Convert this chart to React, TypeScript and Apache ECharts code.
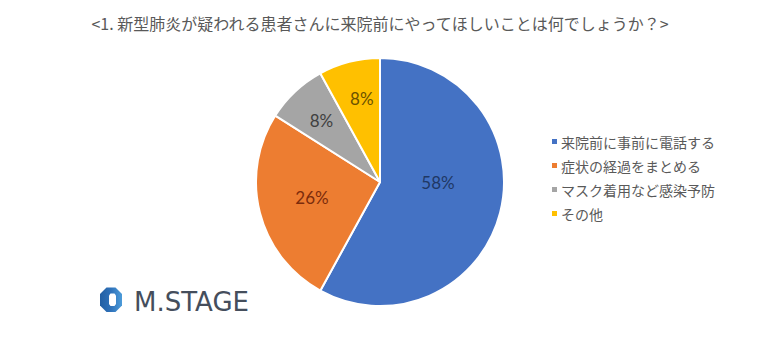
import React, { useEffect, useRef } from "react";
import * as echarts from "echarts";

const titleText = "<1. 新型肺炎が疑われる患者さんに来院前にやってほしいことは何でしょうか？>";
const categories = ["来院前に事前に電話する", "症状の経過をまとめる", "マスク着用など感染予防", "その他"];
const values = [58, 26, 8, 8];
const sliceColors = ["#4472C4", "#ED7D31", "#A5A5A5", "#FFC000"];
const labelColors = ["#1F3864", "#7B2C0C", "#404040", "#6B5200"];
const labelOffsets: [number, number][] = [[-5, -16], [-5, -1], [-14, -14], [-2, -21]];

const FONT = '"Noto Sans CJK JP", "Noto Sans", sans-serif';

export default function App() {
  const ref = useRef<HTMLDivElement>(null);
  useEffect(() => {
    document.body.style.margin = "0";
    const chart = echarts.init(ref.current!, null, { renderer: "svg" });
    chart.setOption({
      animation: false,
      backgroundColor: "#ffffff",
      title: {
        text: titleText,
        left: "center",
        top: 10,
        textStyle: { fontFamily: FONT, fontSize: 16, fontWeight: "normal", color: "#595959" },
      },
      legend: {
        orient: "vertical",
        left: 545,
        top: 129,
        icon: "rect",
        itemWidth: 7,
        itemHeight: 7,
        itemGap: 9,
        data: categories,
        textStyle: { fontFamily: FONT, fontSize: 14, color: "#595959", lineHeight: 15, padding: [0, 0, 0, -2] },
      },
      graphic: [
        {
          type: "polygon",
          shape: {
            points: [[106.5, 287.5], [115.5, 287.5], [122, 294], [122, 305.5], [115.5, 312], [106.5, 312], [100, 305.5], [100, 294]],
          },
          style: {
            fill: new echarts.graphic.LinearGradient(0, 0, 1, 0, [
              { offset: 0, color: "#235FA3" },
              { offset: 0.5, color: "#2F72BA" },
              { offset: 1, color: "#4C9BD9" },
            ]),
          },
        },
        {
          type: "polygon",
          shape: {
            points: [[110.5, 293.5], [114.5, 293.5], [116, 295.5], [116, 304], [114.5, 306], [110.5, 306], [109, 304], [109, 295.5]],
          },
          style: { fill: "#ffffff" },
        },
        {
          type: "text",
          left: 134,
          top: 289,
          style: {
            text: "M.STAGE",
            fontFamily: '"DejaVu Sans", sans-serif',
            fontSize: 26,
            fontWeight: "normal",
            fill: "#454E5C",
          },
        },
      ],
      series: [
        {
          type: "pie",
          center: [380, 182],
          radius: 124,
          startAngle: 90,
          clockwise: true,
          label: {
            show: true,
            position: "inside",
            formatter: "{c}%",
            fontFamily: "Lato, sans-serif",
            fontSize: 17,
            fontWeight: "normal",
          },
          labelLine: { show: false },
          itemStyle: { borderColor: "#ffffff", borderWidth: 2 },
          emphasis: { disabled: true },
          data: categories.map((name, i) => ({
            name,
            value: values[i],
            itemStyle: { color: sliceColors[i] },
            label: { color: labelColors[i], offset: labelOffsets[i] },
          })),
        },
      ],
    });
    return () => chart.dispose();
  }, []);
  return <div ref={ref} style={{ width: 760, height: 361 }} />;
}
